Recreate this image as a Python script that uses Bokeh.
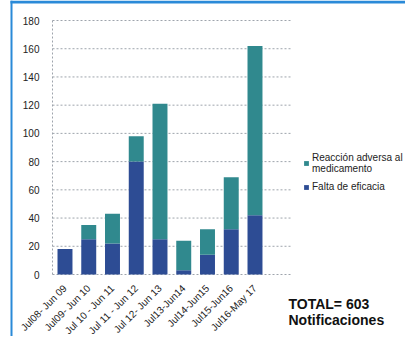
from math import pi
from bokeh.plotting import figure
from bokeh.models import FixedTicker, Legend, LegendItem, Label, BoxAnnotation
from bokeh.embed import file_html
from bokeh.resources import INLINE

periods = ["Jul08- Jun 09", "Jul09- Jun 10", "Jul 10 - Jun 11", "Jul 11 - Jun 12",
           "Jul 12- Jun 13", "Jul13-Jun14", "Jul14-Jun15", "Jul15-Jun16", "Jul16-May 17"]
falta_eficacia = [18, 25, 22, 80, 25, 3, 14, 32, 42]
reaccion_adversa = [0, 10, 21, 18, 96, 21, 18, 37, 120]
y_ticks = [0, 20, 40, 60, 80, 100, 120, 140, 160, 180]
legend_labels = ["Reacción adversa al\nmedicamento", "Falta de eficacia"]
total_lines = ["TOTAL= 603", "Notificaciones"]

BLUE = "#2d4c94"
TEAL = "#30898e"
FRAME_BLUE = "#2a8ad8"
GRID = "#9ea4ac"
FONT = "Liberation Sans"

W, H = 405, 336
# frame spans the whole canvas; axes are pinned with fixed_location
PX_X = 23.75            # pixels per category
PX_Y = 254 / 180        # pixels per unit
ax_x = -0.526           # data x of the value axis
x_start = ax_x - 52 / PX_X
x_end = x_start + W / PX_X
y_end = 180 + 20 / PX_Y
y_start = -(H - 274) / PX_Y
grid_end = ax_x + 238 / PX_X

p = figure(width=W, height=H, output_backend="svg", toolbar_location=None,
           x_range=(x_start, x_end), y_range=(y_start, y_end),
           min_border_left=0, min_border_right=0, min_border_top=0, min_border_bottom=0)
p.outline_line_color = None
p.xgrid.visible = False
p.ygrid.visible = False

xs = list(range(len(periods)))
totals = [a + b for a, b in zip(falta_eficacia, reaccion_adversa)]

p.segment(x0=[ax_x] * len(y_ticks), x1=[grid_end] * len(y_ticks), y0=y_ticks, y1=y_ticks,
          line_color=GRID, line_dash="2 2", line_width=1)

r_blue = p.vbar(x=xs, bottom=0, top=falta_eficacia, width=0.63, fill_color=BLUE, line_color=None)
r_teal = p.vbar(x=xs, bottom=falta_eficacia, top=totals, width=0.63, fill_color=TEAL, line_color=None)

ya = p.yaxis[0]
ya.fixed_location = ax_x
ya.bounds = (0, 180)
ya.ticker = FixedTicker(ticks=y_ticks)
ya.axis_line_color = GRID
ya.axis_line_dash = "2 2"
ya.major_tick_line_color = None
ya.minor_tick_line_color = None
ya.major_label_text_font = FONT
ya.major_label_text_font_size = "10px"
ya.major_label_text_color = "#222222"
ya.major_label_standoff = 7

xa = p.xaxis[0]
xa.fixed_location = 0
xa.ticker = FixedTicker(ticks=xs)
xa.major_label_overrides = {i: periods[i] for i in xs}
xa.major_label_orientation = pi / 4
xa.axis_line_color = None
xa.major_tick_line_color = None
xa.minor_tick_line_color = None
xa.major_label_text_font = FONT
xa.major_label_text_font_size = "10px"
xa.major_label_text_color = "#222222"
xa.major_label_standoff = 6

legend = Legend(items=[LegendItem(label=legend_labels[0], renderers=[r_teal]),
                       LegendItem(label=legend_labels[1], renderers=[r_blue])],
                location=(303, H - 192))
legend.border_line_color = None
legend.background_fill_alpha = 0
legend.label_text_font = FONT
legend.label_text_font_size = "10px"
legend.label_text_color = "#222222"
legend.glyph_width = 6
legend.glyph_height = 6
legend.label_standoff = 3
legend.spacing = 7
legend.padding = 0
legend.margin = 0
p.add_layout(legend)

tx = ax_x + (288 - 52) / PX_X
p.add_layout(Label(x=tx, y=-(303 - 274) / PX_Y, text=total_lines[0], text_baseline="alphabetic",
                   text_font=FONT, text_font_size="14px", text_font_style="bold",
                   text_color="#111111"))
p.add_layout(Label(x=tx, y=-(319 - 274) / PX_Y, text=total_lines[1], text_baseline="alphabetic",
                   text_font=FONT, text_font_size="14px", text_font_style="bold",
                   text_color="#111111"))

p.add_layout(BoxAnnotation(left=10, right=12, top=0, bottom=H,
                           left_units="canvas", right_units="canvas",
                           top_units="canvas", bottom_units="canvas",
                           fill_color=FRAME_BLUE, fill_alpha=1, line_color=None))
p.add_layout(BoxAnnotation(left=10, right=W, top=0, bottom=3,
                           left_units="canvas", right_units="canvas",
                           top_units="canvas", bottom_units="canvas",
                           fill_color=FRAME_BLUE, fill_alpha=1, line_color=None))

open("out.html", "w").write(file_html(p, INLINE))
